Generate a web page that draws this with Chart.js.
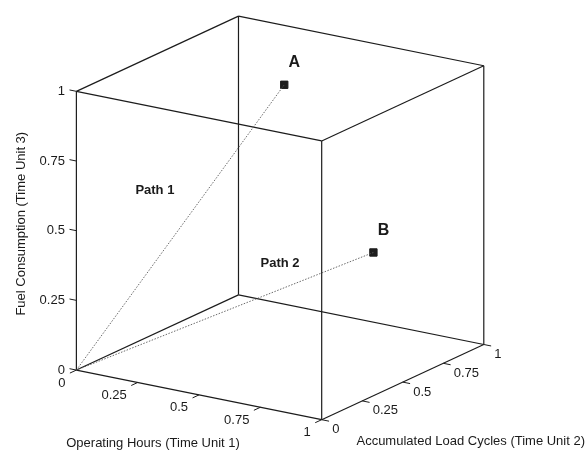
<!DOCTYPE html>
<html>
<head>
<meta charset="utf-8">
<script src="https://cdn.jsdelivr.net/npm/chart.js@4.4.1/dist/chart.umd.min.js"></script>
<style>
html, body { margin: 0; padding: 0; background: #fff; }
#wrap { width: 587px; height: 458px; }
</style>
</head>
<body>
<div id="wrap"><canvas id="cube" width="587" height="458"></canvas></div>
<script>
// ticks shared by all three axes
var tickValues = [0, 0.25, 0.5, 0.75, 1];
var tickLabels = ['0', '0.25', '0.5', '0.75', '1'];
var axisTitles = ['Operating Hours (Time Unit 1)', 'Accumulated Load Cycles (Time Unit 2)', 'Fuel Consumption (Time Unit 3)'];

// path end points, [hours, load cycles, fuel]
var pointNames = ['A', 'B'];
var pointA = [0.55, 0.45, 1];
var pointB = [0.55, 1, 0.25];
var pathNames = ['Path 1', 'Path 2'];
var pathNoteAt = [[0.32, 0, 0.70], [0.83, 0, 0.53]];

// oblique view of the unit box onto the canvas plane
var view = { ox: 71.7, oy: 374, ex: [250.6, 51], ey: [165.6, -77.3], ez: [0, -286.5] };
function proj(p) {
    return {
        x: view.ox + p[0] * view.ex[0] + p[1] * view.ey[0] + p[2] * view.ez[0],
        y: view.oy + p[0] * view.ex[1] + p[1] * view.ey[1] + p[2] * view.ez[1]
    };
}

var lo = tickValues[0], hi = tickValues[tickValues.length - 1];
var datasets = [];

// 12 box edges: corner pairs that differ in one coordinate
var corners = [];
[lo, hi].forEach(function (a) { [lo, hi].forEach(function (b) { [lo, hi].forEach(function (c) { corners.push([a, b, c]); }); }); });
corners.forEach(function (p, i) {
    corners.forEach(function (q, j) {
        if (j <= i) return;
        var diff = 0;
        for (var k = 0; k < 3; k++) if (p[k] !== q[k]) diff++;
        if (diff === 1) {
            datasets.push({ data: [proj(p), proj(q)], showLine: true, borderColor: '#1c1c1c', borderWidth: 1.2, pointRadius: 0 });
        }
    });
});

// dotted paths from the origin (first datasets end up drawn on top)
[pointA, pointB].forEach(function (p) {
    datasets.unshift({ data: [proj([lo, lo, lo]), proj(p)], showLine: true, borderColor: '#5a5a5a', borderWidth: 0.9, borderDash: [1.5, 1.5], pointRadius: 0 });
});

// end markers
datasets.push({
    data: [proj(pointA), proj(pointB)],
    showLine: false, pointStyle: 'rect', pointRadius: 5.2,
    backgroundColor: '#1e1e1e', borderColor: '#1e1e1e', borderWidth: 1
});

var cubeText = {
    id: 'cubeText',
    afterDatasetsDraw: function (chart) {
        var ctx = chart.ctx, sx = chart.scales.x, sy = chart.scales.y;
        function px(p) { var q = proj(p); return [sx.getPixelForValue(q.x), sy.getPixelForValue(q.y)]; }
        function seg(a, b) {
            var p = px(a), q = px(b);
            ctx.beginPath(); ctx.moveTo(p[0], p[1]); ctx.lineTo(q[0], q[1]); ctx.stroke();
        }
        ctx.save();
        ctx.strokeStyle = '#1c1c1c';
        ctx.lineWidth = 1;
        ctx.fillStyle = '#1a1a1a';
        ctx.font = '13px "Liberation Sans", Arial, sans-serif';
        ctx.textBaseline = 'middle';

        tickValues.forEach(function (t, i) {
            // hours axis along the front bottom edge
            seg([t, lo, lo], [t, lo - 0.04, lo]);
            var p = px([t, lo, lo]);
            ctx.textAlign = 'right';
            ctx.fillText(tickLabels[i], p[0] - 11, p[1] + 13);
            // load cycles axis along the right bottom edge
            seg([hi, t, lo], [hi + 0.03, t, lo]);
            p = px([hi, t, lo]);
            ctx.textAlign = 'left';
            ctx.fillText(tickLabels[i], p[0] + 10.5, p[1] + 10);
            // fuel axis up the left edge
            seg([lo, lo, t], [lo - 0.028, lo, t]);
            p = px([lo, lo, t]);
            ctx.textAlign = 'right';
            ctx.fillText(tickLabels[i], p[0] - 11.5, p[1]);
        });

        // axis titles
        ctx.textAlign = 'center';
        var p = px([0.5, lo, lo]);
        ctx.fillText(axisTitles[0], p[0] - 46, p[1] + 49);
        p = px([hi, 0.5, lo]);
        ctx.fillText(axisTitles[1], p[0] + 68, p[1] + 59);
        p = px([lo, lo, 0.5]);
        ctx.save();
        ctx.translate(p[0] - 55, p[1] - 7);
        ctx.rotate(-Math.PI / 2);
        ctx.fillText(axisTitles[2], 0, 0);
        ctx.restore();

        // path notes and point names
        ctx.font = 'bold 13px "Liberation Sans", Arial, sans-serif';
        pathNames.forEach(function (name, i) {
            var q = px(pathNoteAt[i]);
            ctx.fillText(name, q[0], q[1]);
        });
        ctx.font = 'bold 16px "Liberation Sans", Arial, sans-serif';
        [pointA, pointB].forEach(function (pt, i) {
            var q = px(pt);
            ctx.fillText(pointNames[i], q[0] + 10, q[1] - 22);
        });
        ctx.restore();
    }
};

new Chart(document.getElementById('cube'), {
    type: 'scatter',
    data: { datasets: datasets },
    options: {
        responsive: false,
        animation: false,
        events: [],
        layout: { padding: 0 },
        plugins: { legend: { display: false }, tooltip: { enabled: false } },
        scales: {
            x: { type: 'linear', min: 0, max: 587, display: false },
            y: { type: 'linear', min: 0, max: 458, reverse: true, display: false }
        }
    },
    plugins: [cubeText]
});
</script>
</body>
</html>
